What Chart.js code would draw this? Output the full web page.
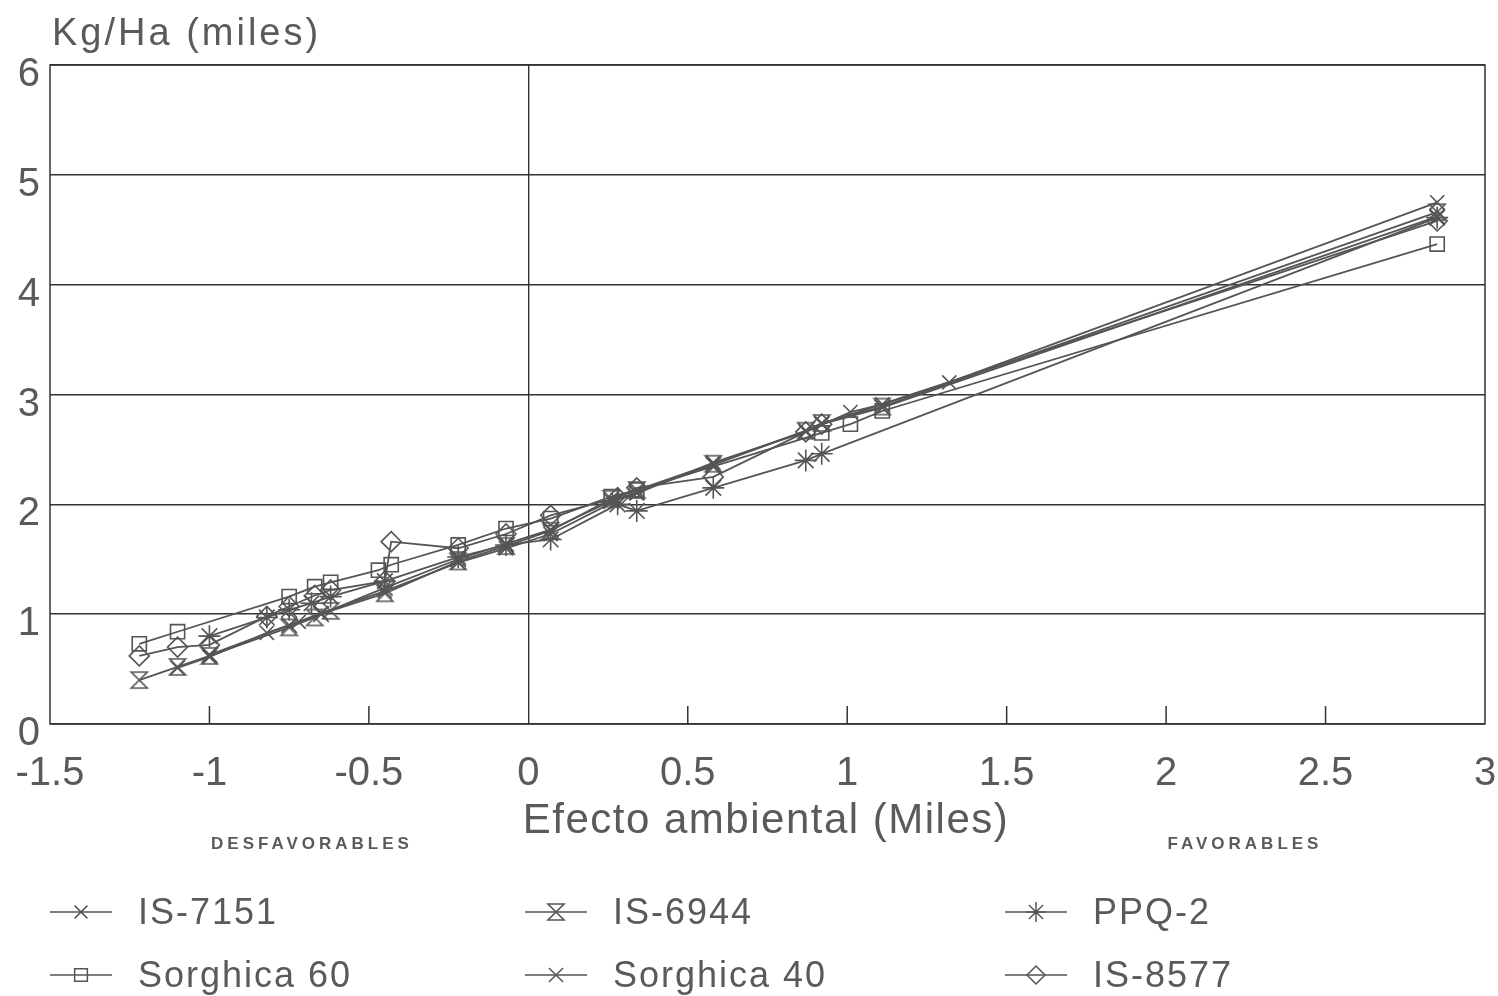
<!DOCTYPE html>
<html>
<head>
<title>Rendimiento vs efecto ambiental</title>
<script src="https://cdn.jsdelivr.net/npm/chart.js"></script>
<style>
  body { margin: 0; background: #fff; }
  #wrap { width: 1498px; height: 996px; }
</style>
</head>
<body>
<div id="wrap"><canvas id="stability" width="1498" height="996"></canvas></div>
<script>
// environmental index (thousands) and yield (thousand kg/ha) per variety
const is7151X = [-1.10, -1.00, -0.82, -0.72, -0.65, -0.45, -0.22, -0.07, 0.07, 0.28, 0.34, 0.58, 0.87, 1.01, 1.11, 1.32, 2.85];
const is7151Y = [0.51, 0.61, 0.83, 0.93, 1.01, 1.21, 1.47, 1.60, 1.73, 2.04, 2.10, 2.38, 2.66, 2.84, 2.91, 3.11, 4.75];

const is6944X = [-1.22, -1.10, -1.00, -0.75, -0.67, -0.62, -0.45, -0.22, -0.07, 0.07, 0.26, 0.34, 0.58, 0.87, 0.92, 1.11, 2.85];
const is6944Y = [0.40, 0.52, 0.62, 0.88, 0.97, 1.03, 1.19, 1.48, 1.62, 1.76, 2.05, 2.13, 2.37, 2.67, 2.74, 2.89, 4.66];

const ppq2X = [-1.00, -0.82, -0.75, -0.68, -0.62, -0.45, -0.22, -0.07, 0.07, 0.28, 0.34, 0.58, 0.87, 0.92, 2.85];
const ppq2Y = [0.80, 0.97, 1.04, 1.10, 1.16, 1.30, 1.52, 1.63, 1.68, 2.00, 1.94, 2.15, 2.40, 2.46, 4.61];

const sorghica60X = [-1.22, -1.10, -0.75, -0.67, -0.62, -0.47, -0.43, -0.22, -0.07, 0.07, 0.26, 0.34, 0.92, 1.01, 1.11, 2.85];
const sorghica60Y = [0.73, 0.84, 1.16, 1.25, 1.29, 1.40, 1.45, 1.63, 1.78, 1.87, 2.07, 2.13, 2.65, 2.73, 2.85, 4.37];

const sorghica40X = [-1.00, -0.75, -0.65, -0.45, -0.22, -0.07, 0.07, 0.26, 0.34, 0.58, 0.87, 0.92, 1.11, 2.85];
const sorghica40Y = [0.63, 0.90, 1.00, 1.24, 1.50, 1.64, 1.77, 2.03, 2.11, 2.36, 2.67, 2.73, 2.88, 4.62];

const is8577X = [-1.22, -1.10, -1.00, -0.82, -0.75, -0.67, -0.62, -0.45, -0.43, -0.22, -0.07, 0.07, 0.28, 0.34, 0.58, 0.87, 0.92, 2.85];
const is8577Y = [0.62, 0.70, 0.72, 0.98, 1.07, 1.17, 1.22, 1.30, 1.66, 1.60, 1.73, 1.90, 2.06, 2.15, 2.25, 2.66, 2.73, 4.58];

const xTicks = [-1.5, -1, -0.5, 0, 0.5, 1, 1.5, 2, 2.5, 3];
const yTicks = [0, 1, 2, 3, 4, 5, 6];

const ink = '#555';
const textColor = '#5a5a5a';

// hourglass marker (no built-in point style for it)
function makeHourglass(size) {
    const c = document.createElement('canvas');
    c.width = c.height = size;
    const g = c.getContext('2d');
    g.strokeStyle = ink;
    g.lineWidth = 1.6;
    const p = 2, q = size - 2;
    g.beginPath();
    g.moveTo(p, p);
    g.lineTo(q, p);
    g.lineTo(p, q);
    g.lineTo(q, q);
    g.closePath();
    g.stroke();
    return c;
}
const hourglass = makeHourglass(20);

function pairs(xs, ys) {
    return xs.map((x, i) => ({ x: x, y: ys[i] }));
}

function series(label, xs, ys, style, radius) {
    return {
        label: label,
        data: pairs(xs, ys),
        showLine: true,
        borderColor: ink,
        borderWidth: 1.8,
        pointStyle: style,
        pointRadius: radius,
        pointBorderWidth: 1.6,
        pointBorderColor: ink,
        pointBackgroundColor: 'rgba(0,0,0,0)',
        tension: 0
    };
}

const datasets = [
    series('IS-7151', is7151X, is7151Y, 'crossRot', 10),
    series('IS-6944', is6944X, is6944Y, hourglass, 10),
    series('PPQ-2', ppq2X, ppq2Y, 'star', 11),
    series('Sorghica 60', sorghica60X, sorghica60Y, 'rect', 10),
    series('Sorghica 40', sorghica40X, sorghica40Y, 'crossRot', 11),
    series('IS-8577', is8577X, is8577Y, 'rectRot', 10)
];

// plot frame and the short inward ticks on the x axis
const framePlugin = {
    id: 'frame',
    beforeDatasetsDraw(chart) {
        const { ctx, chartArea: a, scales } = chart;
        const x = scales.x;
        ctx.save();
        ctx.strokeStyle = '#333';
        ctx.lineWidth = 1.5;
        ctx.strokeRect(a.left, a.top, a.right - a.left, a.bottom - a.top);
        ctx.beginPath();
        x.ticks.forEach(t => {
            if (t.value > x.min && t.value < x.max && t.value !== 0) {
                const px = x.getPixelForValue(t.value);
                ctx.moveTo(px, a.bottom);
                ctx.lineTo(px, a.bottom - 18);
            }
        });
        ctx.stroke();
        ctx.restore();
    }
};

// titles, favourable/unfavourable notes and the three-column legend
const textPlugin = {
    id: 'texts',
    afterDraw(chart) {
        const ctx = chart.ctx;
        ctx.save();
        ctx.fillStyle = textColor;

        ctx.font = '38px "Liberation Sans", Arial, sans-serif';
        ctx.letterSpacing = '3px';
        ctx.textAlign = 'left';
        ctx.textBaseline = 'alphabetic';
        ctx.fillText('Kg/Ha (miles)', 52, 45);

        ctx.font = '42px "Liberation Sans", Arial, sans-serif';
        ctx.letterSpacing = '1.5px';
        ctx.textAlign = 'center';
        ctx.fillText('Efecto ambiental (Miles)', 766, 833);

        ctx.font = 'bold 17px "Liberation Sans", Arial, sans-serif';
        ctx.letterSpacing = '4px';
        ctx.textBaseline = 'middle';
        ctx.fillText('DESFAVORABLES', 312, 844);
        ctx.fillText('FAVORABLES', 1245, 844);

        const cols = [50, 525, 1005];
        const rows = [912, 975];
        const helpers = Chart.helpers;
        chart.data.datasets.forEach((ds, i) => {
            const x0 = cols[i % 3];
            const y0 = rows[Math.floor(i / 3)];
            ctx.strokeStyle = ink;
            ctx.lineWidth = 1.6;
            ctx.beginPath();
            ctx.moveTo(x0, y0);
            ctx.lineTo(x0 + 62, y0);
            ctx.stroke();
            ctx.fillStyle = 'rgba(0,0,0,0)';
            ctx.lineWidth = 1.5;
            if (helpers && helpers.drawPoint) {
                helpers.drawPoint(ctx, {
                    pointStyle: ds.pointStyle,
                    radius: ds.pointRadius - 1,
                    rotation: 0,
                    borderWidth: 1.5
                }, x0 + 31, y0);
            }
            ctx.fillStyle = textColor;
            ctx.font = '36px "Liberation Sans", Arial, sans-serif';
            ctx.letterSpacing = '2px';
            ctx.textAlign = 'left';
            ctx.textBaseline = 'middle';
            ctx.fillText(ds.label, x0 + 88, y0 + 2);
        });
        ctx.restore();
    }
};

new Chart(document.getElementById('stability'), {
    type: 'scatter',
    data: { datasets: datasets },
    options: {
        responsive: false,
        animation: false,
        devicePixelRatio: 1,
        layout: { padding: { left: 0, top: 65, right: 13, bottom: 202 } },
        plugins: {
            legend: { display: false },
            tooltip: { enabled: false }
        },
        scales: {
            x: {
                type: 'linear',
                min: -1.5,
                max: 3,
                afterBuildTicks: s => { s.ticks = xTicks.map(v => ({ value: v })); },
                afterFit: s => { s.height = 70; s.paddingLeft = 0; s.paddingRight = 0; },
                grid: {
                    drawTicks: false,
                    lineWidth: 1.4,
                    color: c => (c.tick && c.tick.value === 0) ? '#333' : 'rgba(0,0,0,0)'
                },
                border: { display: false },
                ticks: {
                    color: textColor,
                    padding: 26,
                    maxRotation: 0,
                    autoSkip: false,
                    font: { family: '"Liberation Sans", Arial, sans-serif', size: 40 },
                    callback: v => String(v)
                }
            },
            y: {
                type: 'linear',
                min: 0,
                max: 6,
                afterBuildTicks: s => { s.ticks = yTicks.map(v => ({ value: v })); },
                afterFit: s => { s.width = 50; s.paddingTop = 0; s.paddingBottom = 0; },
                grid: {
                    drawTicks: false,
                    lineWidth: 1.4,
                    color: '#333'
                },
                border: { display: false },
                ticks: {
                    color: textColor,
                    padding: 10,
                    labelOffset: 10,
                    font: { family: '"Liberation Sans", Arial, sans-serif', size: 40 },
                    callback: v => String(v)
                }
            }
        }
    },
    plugins: [framePlugin, textPlugin]
});
</script>
</body>
</html>
